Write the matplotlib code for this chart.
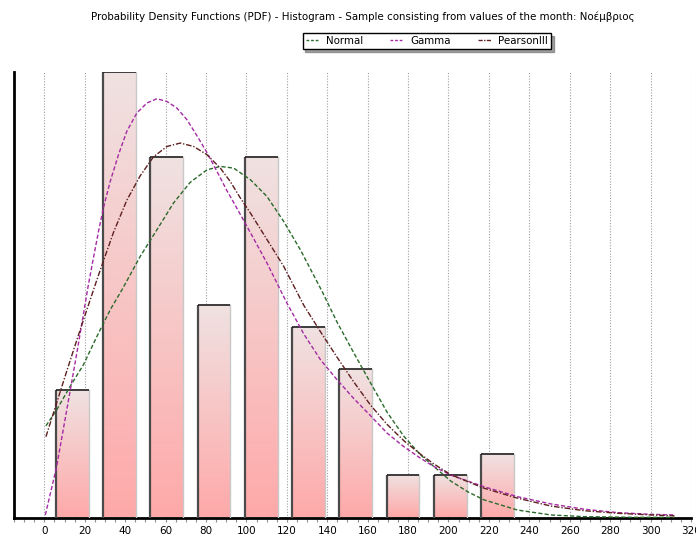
import numpy as np
import matplotlib.pyplot as plt
from matplotlib.colors import LinearSegmentedColormap
from matplotlib.lines import Line2D
from matplotlib.ticker import MultipleLocator

# histogram (frequency per class)
bin_centers = [13.9, 37.3, 60.6, 84.0, 107.4, 130.8, 154.1, 177.5, 200.9, 224.2]
counts = [6, 21, 17, 10, 17, 9, 7, 2, 2, 3]
bar_width = 16.2

# fitted pdf curves (same scale as the counts)
normal_x = [0.8, 6.1, 12.7, 19.3, 26.0, 32.6, 38.4, 47.4, 55.7, 63.9, 72.2, 80.5, 87.1,
            93.7, 102.0, 110.2, 118.5, 126.7, 137.5, 144.9, 153.2, 161.4, 169.7, 177.9,
            186.2, 192.8, 201.1, 209.4, 217.6, 234.2, 250.7, 267.2, 291.9, 311.8]
normal_y = [4.32, 5.07, 6.17, 7.19, 8.53, 9.79, 10.73, 12.30, 13.56, 14.82, 15.80, 16.39, 16.55,
            16.47, 15.92, 15.13, 13.95, 12.62, 10.65, 9.20, 7.75, 6.35, 4.95, 3.83,
            2.95, 2.40, 1.72, 1.22, 0.83, 0.35, 0.12, 0.04, 0.01, 0.01]

gamma_x = [0.5, 6.1, 11.1, 16.1, 19.3, 21.8, 24.3, 26.8, 29.2, 32.6, 36.7, 40.8, 45.8, 50.8,
           55.7, 60.7, 65.6, 70.6, 75.5, 80.5, 85.5, 90.4, 93.7, 100.3, 110.2, 120.1, 128.4,
           136.7, 144.9, 153.2, 161.4, 169.7, 177.9, 186.2, 192.8, 201.1, 217.6, 234.2,
           250.7, 267.2, 283.7, 300.2, 311.8]
gamma_y = [0.12, 2.40, 5.07, 7.76, 9.55, 10.97, 12.23, 13.48, 14.58, 15.84, 17.10, 18.20, 19.07, 19.54,
           19.74, 19.61, 19.30, 18.75, 18.00, 17.20, 16.30, 15.40, 14.85, 13.72, 11.99, 10.10, 8.65,
           7.43, 6.49, 5.60, 4.80, 3.97, 3.34, 2.79, 2.40, 2.00, 1.45, 0.98,
           0.64, 0.39, 0.23, 0.15, 0.12]

pearson_x = [0.8, 6.1, 11.1, 16.1, 21.0, 26.0, 29.2, 34.2, 40.8, 47.4, 54.0, 60.7, 67.3, 73.9,
             80.5, 87.1, 92.0, 97.0, 102.0, 110.2, 118.5, 128.4, 136.7, 144.9, 153.2, 161.4,
             169.7, 177.9, 186.2, 192.8, 201.1, 217.6, 234.2, 250.7, 267.2, 283.7, 300.2, 311.8]
pearson_y = [3.81, 5.40, 6.90, 8.37, 9.78, 11.20, 12.08, 13.43, 14.95, 16.10, 17.00, 17.49, 17.65, 17.49,
             17.10, 16.47, 15.84, 15.06, 14.35, 13.10, 11.83, 10.00, 8.75, 7.55, 6.38, 5.30,
             4.38, 3.62, 2.98, 2.52, 2.02, 1.38, 0.91, 0.54, 0.32, 0.20, 0.12, 0.08]

title = "Probability Density Functions (PDF) - Histogram - Sample consisting from values of the month: Νοέμβριος"

fig = plt.figure(figsize=(6.96, 5.37), dpi=100)
ax = fig.add_axes([14 / 696, 19.5 / 537, 677 / 696, 445.5 / 537])

# bars with a vertical gradient, light at the top and pink at the bottom
cmap = LinearSegmentedColormap.from_list("barfill", ["#ffa9a9", "#f0e2e2"])
grad = np.linspace(0, 1, 256).reshape(-1, 1)
for c, h in zip(bin_centers, counts):
    l, r = c - bar_width / 2, c + bar_width / 2
    ax.imshow(grad, extent=[l, r, 0, h], origin="lower", aspect="auto", cmap=cmap, zorder=2)
    ax.plot([r, r], [0, h], color="#c8c8c8", lw=1, zorder=3)
    ax.plot([l, l], [0, h], color="#4a4a4a", lw=1.6, zorder=3, solid_capstyle="butt")
    ax.plot([l, r], [h, h], color="#202020", lw=1.2, zorder=3, solid_capstyle="butt")

ax.plot(normal_x, normal_y, color="#2a6a2a", lw=1, dashes=(3, 1.6), zorder=4)
ax.plot(gamma_x, gamma_y, color="#a52aa5", lw=1, dashes=(3, 1.6), zorder=4)
ax.plot(pearson_x, pearson_y, color="#5e1f1f", lw=1, dashes=(4, 1.3, 1, 1.3), zorder=4)

ax.set_xlim(-15, 320)
ax.set_ylim(0, 21)
ax.xaxis.set_major_locator(MultipleLocator(20))
ax.xaxis.set_minor_locator(MultipleLocator(5))
ax.set_yticks([])
ax.tick_params(axis="x", which="both", length=3, width=0.8, color="#909090",
               labelsize=7.5, pad=3)
ax.grid(axis="x", which="major", color="#a0a0a0", linestyle=(0, (1, 1.5)), lw=0.8, zorder=0)
ax.set_axisbelow(True)

for side in ["top", "right"]:
    ax.spines[side].set_visible(False)
for side in ["left", "bottom"]:
    ax.spines[side].set_linewidth(2)
    ax.spines[side].set_color("black")

fig.text(363 / 696, 1 - 17 / 537, title, ha="center", va="center", fontsize=7.4)

handles = [Line2D([], [], color="#2a6a2a", lw=1, dashes=(2, 1.3)),
           Line2D([], [], color="#a52aa5", lw=1, dashes=(2, 1.3)),
           Line2D([], [], color="#5e1f1f", lw=1, dashes=(3, 1, 1, 1))]
leg = fig.legend(handles, ["Normal", "Gamma", "PearsonIII"], ncol=3, loc="center",
                 bbox_to_anchor=(427 / 696, 1 - 41 / 537), fontsize=7.4, frameon=True,
                 fancybox=False, shadow=True, edgecolor="black", handlelength=1.3,
                 handletextpad=0.7, columnspacing=2.6, borderpad=0.3, borderaxespad=0)
leg.get_frame().set_linewidth(1)

fig.savefig("out.png", dpi=100)
